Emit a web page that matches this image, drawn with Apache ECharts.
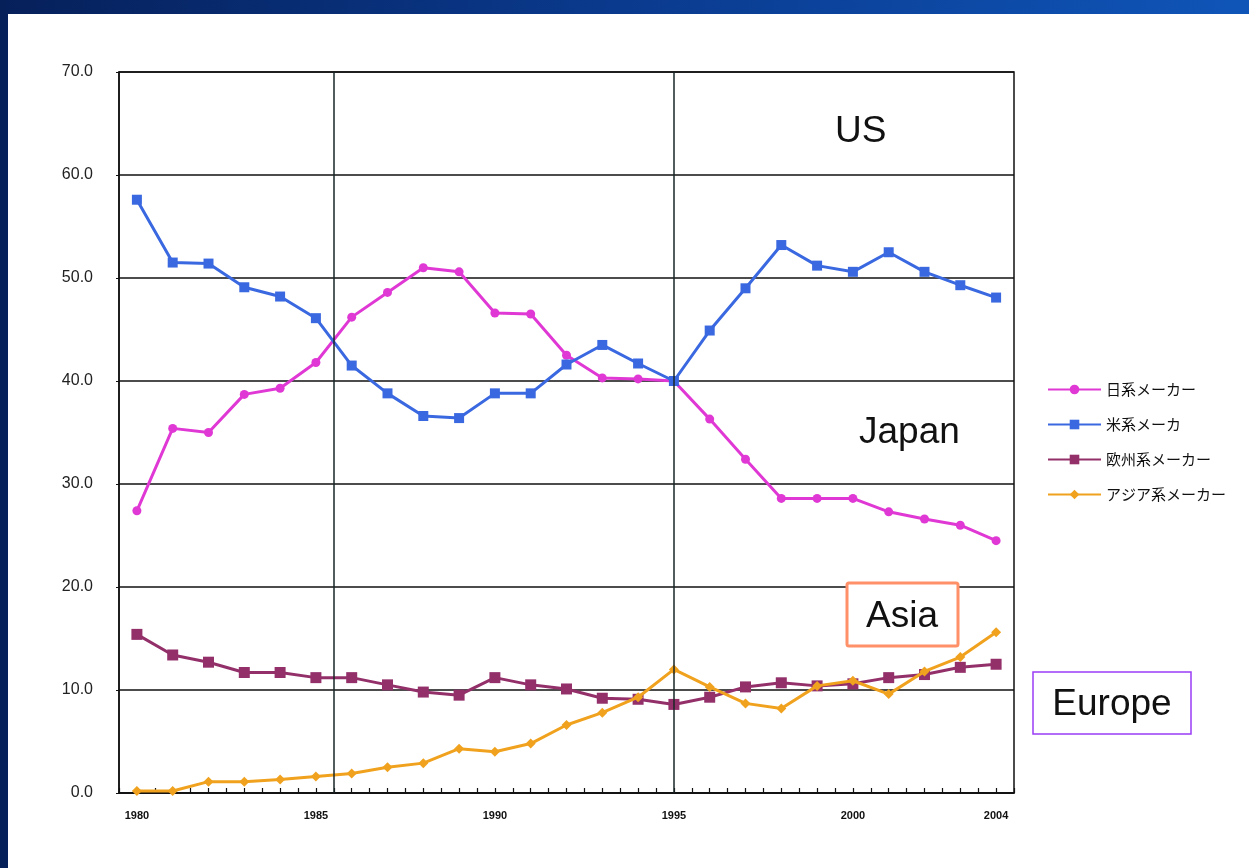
<!DOCTYPE html>
<html>
<head>
<meta charset="utf-8">
<script src="https://cdn.jsdelivr.net/npm/echarts@6/dist/echarts.min.js"></script>
<style>
  html, body { margin: 0; padding: 0; width: 1249px; height: 868px; overflow: hidden; }
  body { background: linear-gradient(90deg, #06205a 0%, #0a3a8e 50%, #0f55b8 100%); position: relative; }
  #panel { position: absolute; left: 8px; top: 14px; right: 0; bottom: 0; background: #ffffff; }
  #chart { position: absolute; left: 0; top: 0; width: 1249px; height: 868px; }
</style>
</head>
<body>
<div id="panel"></div>
<div id="chart"></div>
<script>
// ---- data ----
const years = [1980,1981,1982,1983,1984,1985,1986,1987,1988,1989,1990,1991,1992,1993,1994,1995,1996,1997,1998,1999,2000,2001,2002,2003,2004];
const japan  = [27.4,35.4,35.0,38.7,39.3,41.8,46.2,48.6,51.0,50.6,46.6,46.5,42.5,40.3,40.2,40.0,36.3,32.4,28.6,28.6,28.6,27.3,26.6,26.0,24.5];
const us     = [57.6,51.5,51.4,49.1,48.2,46.1,41.5,38.8,36.6,36.4,38.8,38.8,41.6,43.5,41.7,40.0,44.9,49.0,53.2,51.2,50.6,52.5,50.6,49.3,48.1];
const europe = [15.4,13.4,12.7,11.7,11.7,11.2,11.2,10.5,9.8,9.5,11.2,10.5,10.1,9.2,9.1,8.6,9.3,10.3,10.7,10.4,10.6,11.2,11.5,12.2,12.5];
const asia   = [0.2,0.2,1.1,1.1,1.3,1.6,1.9,2.5,2.9,4.3,4.0,4.8,6.6,7.8,9.3,12.0,10.3,8.7,8.2,10.4,10.9,9.6,11.8,13.2,15.6];
const seriesNames = ['日系メーカー','米系メーカ','欧州系メーカー','アジア系メーカー'];
const xLabelYears = [1980,1985,1990,1995,2000,2004];
const verticalLines = [1985.5, 1995];
const yTicks = [0,10,20,30,40,50,60,70];
const notes = ['US','Japan','Asia','Europe'];

const pair = arr => years.map((y,i)=>[y, arr[i]]);

const chart = echarts.init(document.getElementById('chart'), null, {renderer:'canvas'});
const colors = ['#e038d4','#3a68e0','#93306a','#f0a21e'];
const symbols = ['circle','rect','rect','diamond'];
const sizes = [9,10,11,10];
const datas = [japan, us, europe, asia];

const series = datas.map((d,i)=>({
  name: seriesNames[i],
  type: 'line',
  data: pair(d),
  symbol: symbols[i],
  symbolSize: sizes[i],
  showAllSymbol: true,
  color: colors[i],
  lineStyle: { width: 3, color: colors[i] },
  itemStyle: { color: colors[i] },
  z: 3 + (i===3 ? 1 : 0),
  animation: false
}));
series[0].markLine = {
  silent: true, symbol: ['none','none'], label: { show: false },
  lineStyle: { type: 'solid', color: '#1a2626', width: 1.5 },
  data: verticalLines.map(v=>({ xAxis: v })),
  animation: false
};

const fontLatin = 'Liberation Sans, Arial, sans-serif';

chart.setOption({
  backgroundColor: 'transparent',
  animation: false,
  grid: { left: 119, right: 235, top: 72, bottom: 75, show: true, borderColor: '#111', borderWidth: 1.5, backgroundColor: 'transparent' },
  legend: {
    orient: 'vertical', left: 1042, top: 377,
    itemWidth: 53, itemHeight: 12, itemGap: 20,
    textStyle: { fontFamily: 'Noto Sans CJK JP, sans-serif', fontSize: 15, color: '#111' },
    data: seriesNames
  },
  xAxis: {
    type: 'value', min: 1979.5, max: 2004.5, interval: 0.5,
    axisLine: { show: true, onZero: false, lineStyle: { color: '#111', width: 1.5 } },
    axisTick: { show: true, inside: true, length: 5, lineStyle: { color: '#111', width: 1.2 } },
    splitLine: { show: false },
    axisLabel: {
      margin: 17, fontSize: 11, fontWeight: 'bold', color: '#111',
      fontFamily: 'Liberation Sans Narrow, Arial Narrow, Liberation Sans, sans-serif',
      showMinLabel: true, showMaxLabel: true,
      formatter: v => xLabelYears.indexOf(Math.round(v*10)/10) >= 0 ? String(v) : ''
    }
  },
  yAxis: {
    type: 'value', min: yTicks[0], max: yTicks[yTicks.length-1], interval: 10,
    axisLine: { show: true, lineStyle: { color: '#111', width: 1.5 } },
    axisTick: { show: true, length: 3, lineStyle: { color: '#111' } },
    splitLine: { show: true, lineStyle: { color: '#111', width: 1.5 } },
    axisLabel: { margin: 26, fontSize: 16, color: '#222', fontFamily: fontLatin, formatter: v => v.toFixed(1) }
  },
  series: series,
  graphic: [
    { type: 'text', left: 835, top: 113, z: 10, style: { text: notes[0], font: '37px ' + fontLatin, fill: '#111' } },
    { type: 'text', left: 859, top: 414, z: 10, style: { text: notes[1], font: '37px ' + fontLatin, fill: '#111' } },
    { type: 'rect', shape: { x: 847, y: 583, width: 111, height: 63, r: 2 }, z: 9,
      style: { fill: '#ffffff', stroke: '#ff9068', lineWidth: 3 } },
    { type: 'text', x: 902, y: 617, z: 10, style: { text: notes[2], font: '37px ' + fontLatin, fill: '#111', align: 'center', verticalAlign: 'middle' } },
    { type: 'rect', shape: { x: 1033, y: 672, width: 158, height: 62 }, z: 9,
      style: { fill: '#ffffff', stroke: '#9a3cf6', lineWidth: 1.5 } },
    { type: 'text', x: 1112, y: 705, z: 10, style: { text: notes[3], font: '37px ' + fontLatin, fill: '#111', align: 'center', verticalAlign: 'middle' } }
  ]
});
</script>
</body>
</html>
